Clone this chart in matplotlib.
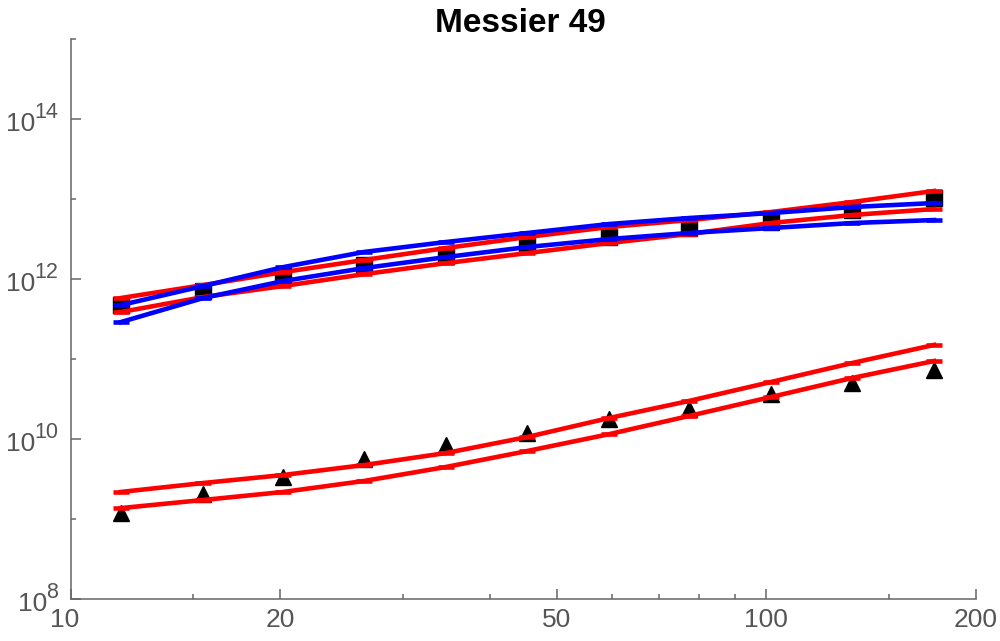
import numpy as np
import matplotlib
matplotlib.use('Agg')
import matplotlib.pyplot as plt
from matplotlib.ticker import FixedLocator, FixedFormatter, NullFormatter
from matplotlib.transforms import ScaledTranslation

plt.rcParams['font.family'] = ['Liberation Sans', 'DejaVu Sans']

# radius values (shared by every series)
radius = [11.8, 15.5, 20.2, 26.4, 34.6, 45.3, 59.4, 77.4, 101.5, 132.8, 174.2]

# data points
total_mass = [4.73e11, 7.08e11, 1.12e12, 1.50e12, 1.94e12, 2.66e12,
              3.35e12, 4.34e12, 5.16e12, 7.29e12, 1.03e13]
gas_mass = [1.19e9, 2.05e9, 3.35e9, 5.62e9, 8.41e9, 1.19e10,
            1.78e10, 2.37e10, 3.65e10, 5.01e10, 7.29e10]

# model bands around the total mass
red_up = [5.79e11, 8.41e11, 1.22e12, 1.73e12, 2.44e12, 3.35e12,
          4.47e12, 5.46e12, 6.88e12, 9.17e12, 1.26e13]
red_low = [3.87e11, 5.96e11, 8.18e11, 1.15e12, 1.58e12, 2.11e12,
           2.82e12, 3.65e12, 5.01e12, 6.31e12, 7.50e12]
blue_up = [4.73e11, 8.18e11, 1.41e12, 2.18e12, 2.90e12, 3.76e12,
           4.87e12, 5.79e12, 6.68e12, 7.94e12, 8.91e12]
blue_low = [2.90e11, 5.79e11, 9.44e11, 1.37e12, 1.88e12, 2.51e12,
            3.16e12, 3.76e12, 4.34e12, 5.01e12, 5.46e12]

# model band around the gas mass
gas_up = [2.18e9, 2.82e9, 3.55e9, 4.73e9, 6.68e9, 1.06e10,
          1.83e10, 2.99e10, 5.16e10, 8.91e10, 1.50e11]
gas_low = [1.37e9, 1.73e9, 2.18e9, 2.99e9, 4.47e9, 7.08e9,
           1.15e10, 1.94e10, 3.35e10, 5.79e10, 9.44e10]

xticks = [10, 20, 50, 100, 200]
xminor = [15, 30, 40, 60, 70, 80, 90, 150]
yticks = [1e8, 1e10, 1e12, 1e14]
yexps = ['8', '10', '12', '14']
yminor = [1e9, 1e11, 1e13, 1e15]

fig = plt.figure(figsize=(10, 6.41), dpi=100)
ax = fig.add_axes([0.071, 0.0655, 0.9047, 0.8736])

ax.plot(radius, total_mass, 's', color='black', markersize=11, zorder=2)
ax.plot(radius, gas_mass, '^', color='black', markersize=11, zorder=2)

line_kw = dict(lw=3.3, marker='_', markersize=12, markeredgewidth=3.3, zorder=3)
for ys in [red_up, red_low, gas_up, gas_low]:
    ax.plot(radius, ys, color='#ff0000', **line_kw)
for ys in [blue_up, blue_low]:
    ax.plot(radius, ys, color='#0000ff', **line_kw)

ax.set_xscale('log')
ax.set_yscale('log')
ax.set_xlim(10, 200)
ax.set_ylim(1e8, 1e15)

ax.xaxis.set_major_locator(FixedLocator(xticks))
ax.xaxis.set_major_formatter(FixedFormatter([str(t) for t in xticks]))
ax.xaxis.set_minor_locator(FixedLocator(xminor))
ax.xaxis.set_minor_formatter(NullFormatter())
ax.yaxis.set_major_locator(FixedLocator(yticks))
ax.yaxis.set_major_formatter(NullFormatter())
ax.yaxis.set_minor_locator(FixedLocator(yminor))
ax.yaxis.set_minor_formatter(NullFormatter())

for s in ['top', 'right']:
    ax.spines[s].set_visible(False)
for s in ['left', 'bottom']:
    ax.spines[s].set_color('#666666')
    ax.spines[s].set_linewidth(1.1)

lab_col = '#555555'
ax.tick_params(which='both', direction='in', color='#666666', width=1.1,
               labelcolor=lab_col, labelsize=19)
ax.tick_params(which='major', length=7)
ax.tick_params(which='minor', length=3.6)
ax.tick_params(axis='x', pad=6.5)

# shift the "10" label a little left, as in the original
fig.canvas.draw()
first = ax.get_xticklabels()[0]
first.set_transform(first.get_transform() + ScaledTranslation(-0.06, 0, fig.dpi_scale_trans))

# y labels as 10 with a raised exponent
renderer = fig.canvas.get_renderer()
for t, e in zip(yticks, yexps):
    ex = ax.annotate(e, xy=(0, t), xycoords=('axes fraction', 'data'),
                     xytext=(-9.4, 0.6), textcoords='offset points',
                     ha='right', va='baseline', fontsize=15.5, color=lab_col)
    w = ex.get_window_extent(renderer).width
    ax.annotate('10', xy=(0, t), xycoords=('axes fraction', 'data'),
                xytext=(-9.4 - (w - 1) * 0.72, -8.6), textcoords='offset points',
                ha='right', va='baseline', fontsize=19, color=lab_col)

fig.text(0.52, 1 - 32 / 641, 'Messier 49', ha='center', va='baseline',
         fontsize=24, fontweight='bold')

fig.savefig('out.png', dpi=100)
